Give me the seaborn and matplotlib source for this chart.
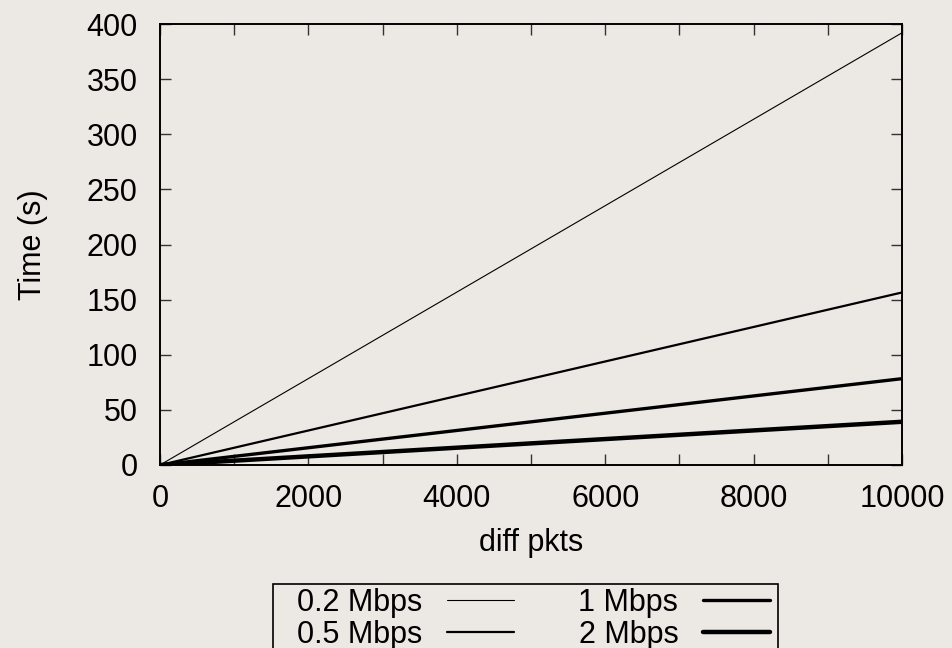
import matplotlib
matplotlib.use("Agg")
import matplotlib.pyplot as plt
from matplotlib.lines import Line2D
from matplotlib.patches import Rectangle
import seaborn as sns
import pandas as pd

# Transfer time for a number of differing packets at several link rates
pkts = [0, 10000]
time_02 = [0, 392.0]
time_05 = [0, 156.5]
time_1 = [0, 78.3]
time_2 = [0, 39.2]
rates = ["0.2 Mbps", "0.5 Mbps", "1 Mbps", "2 Mbps"]

x_ticks = list(range(0, 10001, 1000))
x_labels = [str(v) if v % 2000 == 0 else "" for v in x_ticks]
y_ticks = list(range(0, 401, 50))

bg = "#ece8e4"
sns.set_theme(style="ticks")
plt.rcParams["font.family"] = ["Liberation Sans", "DejaVu Sans"]
plt.rcParams["text.color"] = "black"

df = pd.concat([
    pd.DataFrame({"pkts": pkts, "time": t, "rate": r})
    for t, r in zip([time_02, time_05, time_1, time_2], rates)
])

widths = {"0.2 Mbps": 0.8, "0.5 Mbps": 1.6, "1 Mbps": 2.4, "2 Mbps": 3.2}

fig = plt.figure(figsize=(9.53, 6.48), dpi=100, facecolor=bg)
ax = fig.add_axes([160 / 953, 1 - 465 / 648, 742 / 953, 441 / 648])
ax.set_facecolor(bg)

for r in rates:
    sns.lineplot(data=df[df["rate"] == r], x="pkts", y="time", color="black",
                 lw=widths[r], ax=ax, legend=False, solid_capstyle="butt")

ax.set_xlim(0, 10000)
ax.set_ylim(0, 400)
ax.set_xticks(x_ticks)
ax.set_xticklabels(x_labels)
ax.set_yticks(y_ticks)
for s in ax.spines.values():
    s.set_visible(True)
    s.set_linewidth(1.4)
    s.set_color("black")
ax.tick_params(direction="in", length=8, width=1.0, color="#333333",
               top=True, right=True, labelsize=22, labelcolor="black")
ax.tick_params(axis="y", pad=16)
ax.tick_params(axis="x", pad=14)
ax.set_xlabel("diff pkts", fontsize=22, color="black", labelpad=10)
ax.set_ylabel("Time (s)", fontsize=22, color="black", labelpad=28)

# Key box below the plot, open at the bottom edge
fig.patches.append(Rectangle((273 / 953, -0.05), 505 / 953, 0.05 + 1 - 584 / 648,
                             transform=fig.transFigure, fill=False,
                             edgecolor="black", lw=1.2))
handles = [Line2D([], [], color="black", lw=widths[r]) for r in rates]
fig.legend(handles, rates, loc="upper left", ncol=2, frameon=False,
           bbox_to_anchor=(297 / 953, 1 - 588 / 648), fontsize=22,
           labelcolor="black",
           markerfirst=False, handlelength=2.17, handletextpad=0.82,
           columnspacing=2.12, labelspacing=0.05, borderpad=0,
           borderaxespad=0)

fig.savefig("out.png", dpi=100, facecolor=bg)
